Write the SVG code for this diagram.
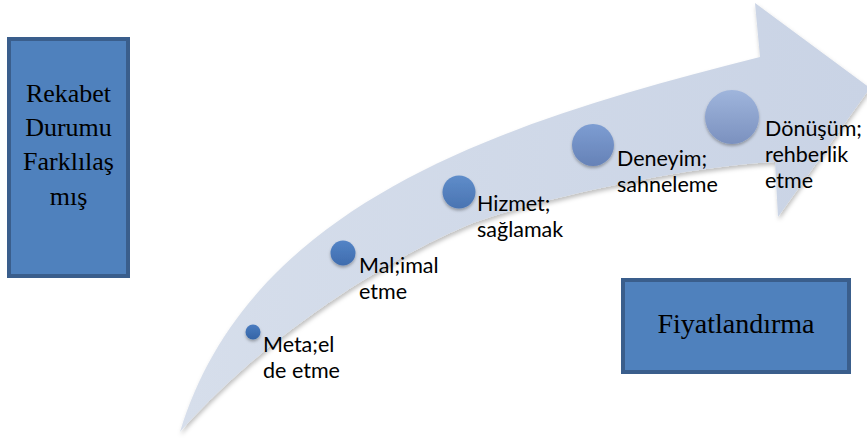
<svg xmlns="http://www.w3.org/2000/svg" width="867" height="439" viewBox="0 0 867 439">
  <defs>
    <style>
      .box { fill: #4f81bd; stroke: #3a5e8c; stroke-width: 4; }
      .serif { font-family: "Liberation Serif", "Times New Roman", serif; fill: #000; text-anchor: middle; }
      .lbl { font-family: Lato, "Open Sans", "Liberation Sans", sans-serif; font-size: 21.5px; fill: #000; }
      .dot { filter: url(#dotShadow); }
    </style>
    <linearGradient id="bandFill" x1="0" y1="0" x2="1" y2="0">
      <stop offset="0" stop-color="#d6deeb"/>
      <stop offset="1" stop-color="#c9d3e5"/>
    </linearGradient>
    <linearGradient id="g1" x1="0" y1="0" x2="0" y2="1">
      <stop offset="0" stop-color="#4a7cc0"/>
      <stop offset="1" stop-color="#3464a6"/>
    </linearGradient>
    <linearGradient id="g2" x1="0" y1="0" x2="0" y2="1">
      <stop offset="0" stop-color="#5384c6"/>
      <stop offset="1" stop-color="#3f6cae"/>
    </linearGradient>
    <linearGradient id="g3" x1="0" y1="0" x2="0" y2="1">
      <stop offset="0" stop-color="#5f8dca"/>
      <stop offset="1" stop-color="#4a74b2"/>
    </linearGradient>
    <linearGradient id="g4" x1="0" y1="0" x2="0" y2="1">
      <stop offset="0" stop-color="#7d9dd2"/>
      <stop offset="1" stop-color="#6682b7"/>
    </linearGradient>
    <linearGradient id="g5" x1="0" y1="0" x2="0" y2="1">
      <stop offset="0" stop-color="#9fb5dc"/>
      <stop offset="1" stop-color="#7b91bf"/>
    </linearGradient>
    <filter id="bandShadow" x="-5%" y="-5%" width="110%" height="115%">
      <feDropShadow dx="1" dy="3" stdDeviation="2" flood-color="#000" flood-opacity="0.25"/>
    </filter>
    <filter id="dotShadow" x="-30%" y="-30%" width="160%" height="170%">
      <feDropShadow dx="0" dy="2" stdDeviation="1.5" flood-color="#000" flood-opacity="0.3"/>
    </filter>
  </defs>

  <rect width="867" height="439" fill="#ffffff"/>

  <!-- curved progression arrow -->
  <g id="progression-arrow">
    <path filter="url(#bandShadow)" fill="url(#bandFill)"
          d="M180,432 C250,200 510,120 760,57 L755,3 L870,88 L778,217 L775,162
             C690,166 540,198 473,223 C395,255 270,330 180,432 Z"/>
  </g>

  <!-- side boxes -->
  <g id="rekabet-box">
    <rect class="box" x="9" y="39" width="119" height="237"/>
    <text class="serif" font-size="26" x="68.5" y="102">Rekabet</text>
    <text class="serif" font-size="26" x="68.5" y="136">Durumu</text>
    <text class="serif" font-size="26" x="68.5" y="170">Farklılaş</text>
    <text class="serif" font-size="26" x="68.5" y="205">mış</text>
  </g>

  <g id="fiyat-box">
    <rect class="box" x="623" y="280" width="226" height="92"/>
    <text class="serif" font-size="28" x="736" y="333">Fiyatlandırma</text>
  </g>

  <!-- stages along the arrow -->
  <g id="stage-meta">
    <circle class="dot" cx="253" cy="332" r="7.5" fill="url(#g1)"/>
    <text class="lbl" x="263" y="352">Meta;el</text>
    <text class="lbl" x="263" y="378">de etme</text>
  </g>

  <g id="stage-mal">
    <circle class="dot" cx="343" cy="253" r="12.5" fill="url(#g2)"/>
    <text class="lbl" x="359" y="273">Mal;imal</text>
    <text class="lbl" x="359" y="299">etme</text>
  </g>

  <g id="stage-hizmet">
    <circle class="dot" cx="459" cy="192" r="16.5" fill="url(#g3)"/>
    <text class="lbl" x="477" y="211">Hizmet;</text>
    <text class="lbl" x="477" y="237">sağlamak</text>
  </g>

  <g id="stage-deneyim">
    <circle class="dot" cx="593" cy="145" r="21" fill="url(#g4)"/>
    <text class="lbl" x="617" y="166">Deneyim;</text>
    <text class="lbl" x="617" y="192">sahneleme</text>
  </g>

  <g id="stage-donusum">
    <circle class="dot" cx="732" cy="117" r="27" fill="url(#g5)"/>
    <text class="lbl" x="765" y="136">Dönüşüm;</text>
    <text class="lbl" x="765" y="162">rehberlik</text>
    <text class="lbl" x="765" y="188">etme</text>
  </g>
</svg>
